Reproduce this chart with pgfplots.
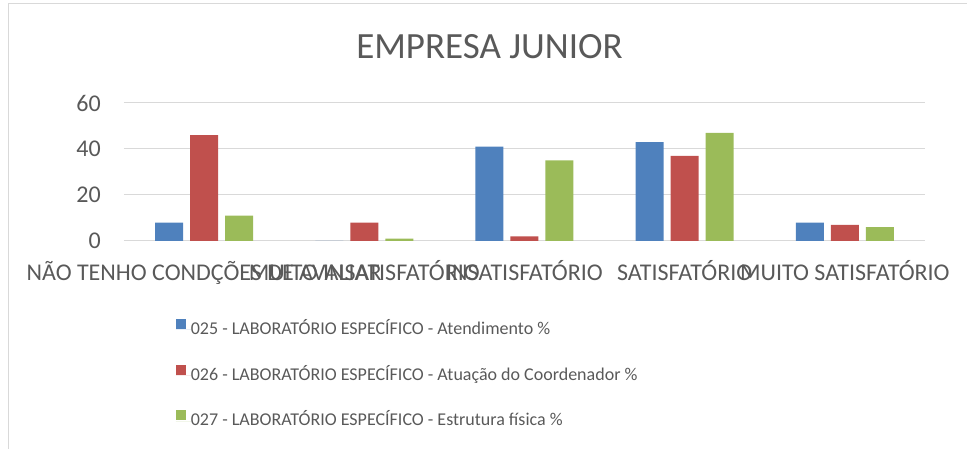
\documentclass[border=0pt]{standalone}
\usepackage{fontspec}
\setmainfont{Carlito}
\usepackage{pgfplots}
\pgfplotsset{compat=1.18}
\definecolor{cblue}{RGB}{79,129,189}
\definecolor{cred}{RGB}{192,80,77}
\definecolor{cgreen}{RGB}{155,187,89}
\definecolor{gridgray}{RGB}{217,217,217}
\definecolor{textgray}{RGB}{89,89,89}
\begin{document}
\begin{tikzpicture}
\path[use as bounding box] (-124pt,-208pt) rectangle (843pt,241pt);
\begin{axis}[
    at={(0,0)}, anchor=south west,
    scale only axis, width=801pt, height=138pt,
    ybar=7pt, bar width=28pt,
    xmin=-0.5, xmax=4.5, ymin=0, ymax=60,
    xtick={0,1,2,3,4},
    xticklabels={NÃO TENHO CONDÇÕES DE AVALIAR, MUITO INSATISFATÓRIO, INSATISFATÓRIO, SATISFATÓRIO, MUITO SATISFATÓRIO},
    ytick={0,20,40,60},
    ymajorgrids, grid style={draw=gridgray, line width=1pt},
    axis line style={draw=none},
    major tick length=0pt,
    /pgf/number format/assume math mode=true,
    tick label style={font=\fontsize{24}{24}\selectfont, text=textgray, inner sep=0pt},
    yticklabel style={anchor=east, xshift=-23pt},
    xticklabel style={anchor=base, yshift=-40pt},
    title={EMPRESA JUNIOR},
    title style={at={(0.4563,1.2804)}, anchor=base, font=\fontsize{37}{37}\selectfont, text=textgray},
    legend image code/.code={\fill[#1] (0pt,0.8pt) rectangle (10pt,10.8pt); \path (0pt,0pt) -- (15pt,0pt);},
    legend style={at={(0.0645,-0.5638)}, anchor=north west, draw=none, fill=none, inner sep=0pt,
        row sep=26.4pt, font=\fontsize{18}{18}\selectfont, text=textgray,
        nodes={inner sep=0pt, text height=13pt, text depth=4pt}},
    legend cell align=left,
    clip=false,
]
\addplot[fill=cblue, draw=none] coordinates {(0,8) (1,0) (2,41) (3,43) (4,8)};
\addplot[fill=cred, draw=none] coordinates {(0,46) (1,8) (2,2) (3,37) (4,7)};
\addplot[fill=cgreen, draw=none] coordinates {(0,11) (1,1) (2,35) (3,47) (4,6)};
\legend{025 - LABORATÓRIO ESPECÍFICO - Atendimento \%, 026 - LABORATÓRIO ESPECÍFICO - Atuação do Coordenador \%, 027 - LABORATÓRIO ESPECÍFICO - Estrutura física \%}
\end{axis}
\draw[gridgray, line width=1pt] (-115pt,-208pt) -- (-115pt,237pt) -- (843pt,237pt);
\end{tikzpicture}
\end{document}
